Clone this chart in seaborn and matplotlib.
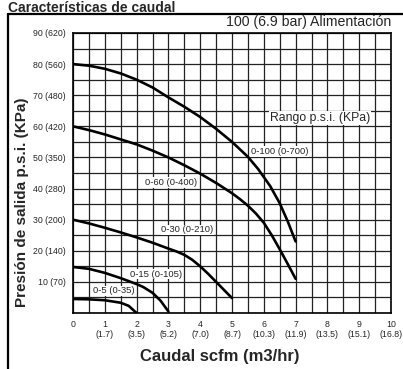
import numpy as np
import pandas as pd
import matplotlib.pyplot as plt
import seaborn as sns
from matplotlib.lines import Line2D

# Curve data (flow scfm, outlet pressure psi)
x_100 = [0, 0.5, 1, 1.5, 2, 2.5, 3, 3.5, 4, 4.5, 5, 5.5, 5.82, 6.2, 6.5, 6.75, 7]
y_100 = [80, 79.5, 78.5, 77, 75, 72.5, 69.3, 66.3, 63, 59.2, 55, 50.2, 46.3, 40.8, 35.3, 29.5, 23]
x_60 = [0, 0.5, 1, 1.5, 2, 2.5, 3, 3.5, 4, 4.5, 5, 5.25, 5.5, 5.75, 6, 6.25, 6.5, 6.75, 7]
y_60 = [60, 58.8, 57.4, 55.8, 54.2, 52.2, 50, 47.5, 44.8, 41.8, 38.5, 36.6, 34.5, 32, 29, 25, 20.5, 15.8, 11]
x_30 = [0, 0.5, 1, 1.5, 2, 2.5, 3, 3.25, 3.5, 3.75, 4, 4.25, 4.5, 4.75, 5]
y_30 = [30, 28.8, 27.4, 25.9, 24.3, 22.6, 20.7, 19.8, 18.7, 17.1, 15, 12.6, 10, 7.4, 4.8]
x_15 = [0, 0.5, 1, 1.5, 2, 2.2, 2.5, 2.75, 3]
y_15 = [14.8, 14.2, 12.9, 11.2, 9.3, 8.4, 6.5, 4, 0.5]
x_5 = [0, 0.5, 1, 1.5, 1.75, 2]
y_5 = [4.5, 4.4, 4.1, 3.3, 2.3, 0]

series_names = ["0-100 (0-700)", "0-60 (0-400)", "0-30 (0-210)", "0-15 (0-105)", "0-5 (0-35)"]
label_x = [6.5, 3.08, 3.6, 2.6, 1.28]
label_y = [51.8, 42, 26.7, 12.5, 7.1]

x_ticks = [0, 1, 2, 3, 4, 5, 6, 7, 8, 9, 10]
x_m3hr = ["", "(1.7)", "(3.5)", "(5.2)", "(7.0)", "(8.7)", "(10.3)", "(11.9)", "(13.5)", "(15.1)", "(16.8)"]
y_ticks = [10, 20, 30, 40, 50, 60, 70, 80, 90]
y_kpa = ["(70)", "(140)", "(200)", "(280)", "(350)", "(420)", "(480)", "(560)", "(620)"]

sns.set_style("white")
plt.rcParams['font.family'] = ['Liberation Sans', 'DejaVu Sans']

fig = plt.figure(figsize=(4.03, 3.69), dpi=100)
ax = fig.add_axes([73 / 403, 1 - 313 / 369, 318 / 403, 280 / 369])

curves = [(x_100, y_100), (x_60, y_60), (x_30, y_30), (x_15, y_15), (x_5, y_5)]
for (xs, ys), name in zip(curves, series_names):
    df = pd.DataFrame({"caudal": xs, "presion": ys})
    sns.lineplot(data=df, x="caudal", y="presion", ax=ax, color="black",
                 linewidth=1.9, zorder=3)

for name, lx, ly in zip(series_names, label_x, label_y):
    ax.text(lx, ly, name, fontsize=6.8, ha="center", va="center", zorder=4,
            bbox=dict(facecolor="white", edgecolor="none", pad=0.6))
ax.text(7.77, 62.7, "Rango p.s.i. (KPa)", fontsize=8.8, ha="center", va="center",
        zorder=4, bbox=dict(facecolor="white", edgecolor="none", pad=0.8))

ax.set_xlim(0, 10)
ax.set_ylim(0, 90)
ax.set_xticks(x_ticks)
ax.set_xticklabels([f"{t}\n{m}" if m else f"{t}\n" for t, m in zip(x_ticks, x_m3hr)],
                   fontsize=6.3)
ax.set_yticks(y_ticks)
ax.set_yticklabels([f"{t} {k}" for t, k in zip(y_ticks, y_kpa)], fontsize=6.3)
ax.set_xticks(np.arange(0, 10.01, 0.5), minor=True)
ax.set_yticks(np.arange(0, 90.01, 5), minor=True)
ax.tick_params(which="both", length=0, pad=5)
ax.grid(which="both", color="#222222", linewidth=0.9)
ax.set_axisbelow(True)
for sp in ax.spines.values():
    sp.set_color("black")
    sp.set_linewidth(1.2)

ax.set_xlabel("Caudal scfm (m3/hr)", fontsize=12, fontweight="bold", va="center")
ax.set_ylabel("Presión de salida p.s.i. (KPa)", fontsize=11, fontweight="bold", va="center")
ax.xaxis.set_label_coords(0.462, -0.157)
ax.yaxis.set_label_coords(-0.16, 0.396)

ax.text(1.0, (313 - 22) / 280, "100 (6.9 bar) Alimentación", transform=ax.transAxes,
        fontsize=10.2, ha="right", va="center")

# outer frame and heading above it
fig.add_artist(Line2D([8 / 403, 1], [1 - 13.5 / 369, 1 - 13.5 / 369], color="black", linewidth=1.6))
fig.add_artist(Line2D([8 / 403, 8 / 403], [0, 1 - 13.5 / 369], color="black", linewidth=1.6))
fig.text(8 / 403, 1 - 11.5 / 369, "Características de caudal", fontsize=10,
         fontweight="bold", ha="left", va="baseline")

plt.savefig("out.png", dpi=100)
